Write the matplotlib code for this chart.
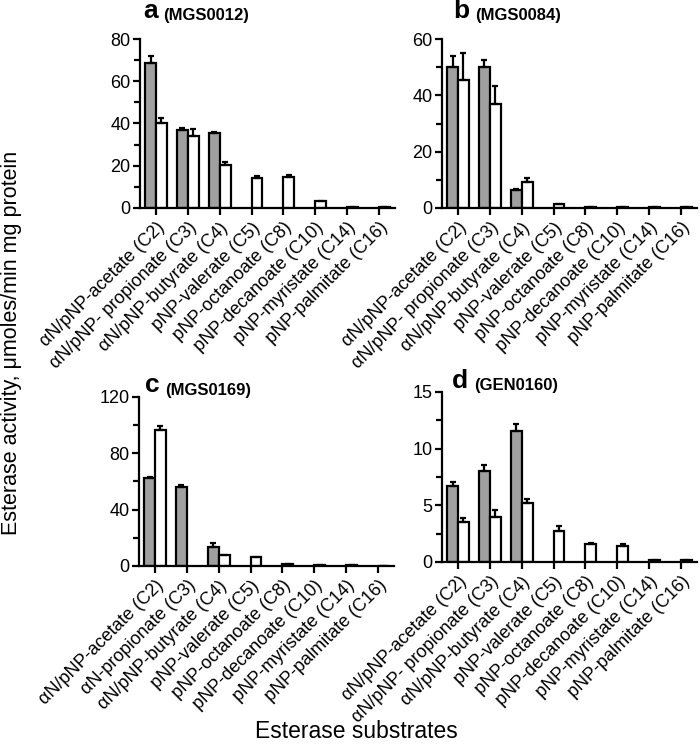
import matplotlib
matplotlib.use('Agg')
import matplotlib.pyplot as plt
import numpy as np

plt.rcParams['font.family'] = ['Liberation Sans', 'DejaVu Sans']

nan = np.nan

labels_a = ['αN/pNP-acetate (C2)', 'αN/pNP- propionate (C3)', 'αN/pNP-butyrate (C4)',
            'pNP-valerate (C5)', 'pNP-octanoate (C8)', 'pNP-decanoate (C10)',
            'pNP-myristate (C14)', 'pNP-palmitate (C16)']
labels_c = ['αN/pNP-acetate (C2)', 'αN-propionate (C3)', 'αN/pNP-butyrate (C4)',
            'pNP-valerate (C5)', 'pNP-octanoate (C8)', 'pNP-decanoate (C10)',
            'pNP-myristate (C14)', 'pNP-palmitate (C16)']

# panel a (MGS0012)
gray_a = [68.5, 36.7, 35.6, nan, nan, nan, nan, nan]
gray_a_err = [3.5, 1.1, 0.5, nan, nan, nan, nan, nan]
white_a = [40.2, 33.9, 20.2, 14.2, 14.6, 3.5, 0.5, 0.3]
white_a_err = [2.6, 3.4, 1.4, 1.1, 0.8, nan, nan, nan]

# panel b (MGS0084)
gray_b = [50.2, 50.2, 6.3, nan, nan, nan, nan, nan]
gray_b_err = [3.8, 2.3, 0.3, nan, nan, nan, nan, nan]
white_b = [45.5, 36.8, 9.3, 1.5, 0.5, 0.5, 0.3, 0.3]
white_b_err = [9.6, 6.6, 1.3, nan, nan, nan, nan, nan]

# panel c (MGS0169)
gray_c = [62.5, 56.2, 13.7, nan, nan, nan, nan, nan]
gray_c_err = [0.8, 0.9, 2.8, nan, nan, nan, nan, nan]
white_c = [96.3, nan, 7.8, 6.1, 1.5, 0.5, 1.0, 0.3]
white_c_err = [2.7, nan, nan, nan, nan, nan, nan, nan]

# panel d (GEN0160)
gray_d = [6.68, 8.0, 11.6, nan, nan, nan, nan, nan]
gray_d_err = [0.35, 0.53, 0.6, nan, nan, nan, nan, nan]
white_d = [3.5, 3.97, 5.2, 2.76, 1.59, 1.44, 0.2, 0.15]
white_d_err = [0.38, 0.59, 0.4, 0.39, 0.12, 0.16, nan, nan]

W, H = 700, 746


def make_axes(fig, left, right, top, bottom):
    return fig.add_axes([left / W, 1 - bottom / H, (right - left) / W, (bottom - top) / H])


def panel(ax, labels, gray, gray_err, white, white_err, ymax, ystep, letter, code, title_dx, title_dy):
    x = np.arange(len(labels))
    w = 0.34
    ax.bar(x - w / 2, gray, w, color='#a0a0a0', edgecolor='black', linewidth=1.6, zorder=2)
    ax.bar(x + w / 2, white, w, color='white', edgecolor='black', linewidth=1.6, zorder=2)
    ge = np.array(gray_err)
    we = np.array(white_err)
    ax.errorbar(x - w / 2, gray, yerr=[np.zeros_like(ge), ge], fmt='none', ecolor='black',
                elinewidth=1.6, capsize=2.5, capthick=1.6, zorder=3)
    ax.errorbar(x + w / 2, white, yerr=[np.zeros_like(we), we], fmt='none', ecolor='black',
                elinewidth=1.6, capsize=2.5, capthick=1.6, zorder=3)
    ax.set_xlim(-0.5, 7.5)
    ax.set_ylim(0, ymax)
    ax.set_yticks(np.arange(0, ymax + 0.01, ystep))
    ax.set_yticks(np.arange(ystep / 2, ymax, ystep), minor=True)
    ax.set_xticks(x)
    ax.set_xticklabels(labels, rotation=45, ha='right', rotation_mode='anchor', fontsize=11.5)
    ax.spines['top'].set_visible(False)
    ax.spines['right'].set_visible(False)
    for s in ['left', 'bottom']:
        ax.spines[s].set_linewidth(1.6)
    ax.tick_params(axis='both', which='major', length=5, width=1.6, direction='out', labelsize=13, pad=2)
    ax.tick_params(axis='y', which='minor', length=4, width=1.6)
    ax.tick_params(axis='x', which='major', pad=3)
    t = ax.annotate(letter, xy=(0, 1), xycoords='axes fraction', xytext=(title_dx, title_dy),
                    textcoords='offset pixels', fontsize=19, fontweight='bold', va='baseline')
    ax.annotate(code, xy=(1, 0), xycoords=t, xytext=(6, 0), textcoords='offset pixels',
                fontsize=12, fontweight='bold', va='bottom')


fig = plt.figure(figsize=(7, 7.46), dpi=100)

ax_a = make_axes(fig, 140, 395, 39, 208)
panel(ax_a, labels_a, gray_a, gray_a_err, white_a, white_a_err, 80, 20, 'a', '(MGS0012)', 3, 21)

ax_b = make_axes(fig, 442, 697, 39, 208)
panel(ax_b, labels_a, gray_b, gray_b_err, white_b, white_b_err, 60, 20, 'b', '(MGS0084)', 11, 21)

ax_c = make_axes(fig, 139, 394, 396.5, 566)
panel(ax_c, labels_c, gray_c, gray_c_err, white_c, white_c_err, 120, 40, 'c', '(MGS0169)', 6, 4)

ax_d = make_axes(fig, 442, 697, 392, 562)
panel(ax_d, labels_a, gray_d, gray_d_err, white_d, white_d_err, 15, 5, 'd', '(GEN0160)', 10, 4)

fig.text(12 / W, 1 - 343 / H, 'Esterase activity, μmoles/min mg protein', rotation=90,
         ha='center', va='center', fontsize=15.5)
fig.text(356 / W, 1 - 732 / H, 'Esterase substrates', ha='center', va='center', fontsize=16.5)

fig.savefig('out.png', dpi=100)
